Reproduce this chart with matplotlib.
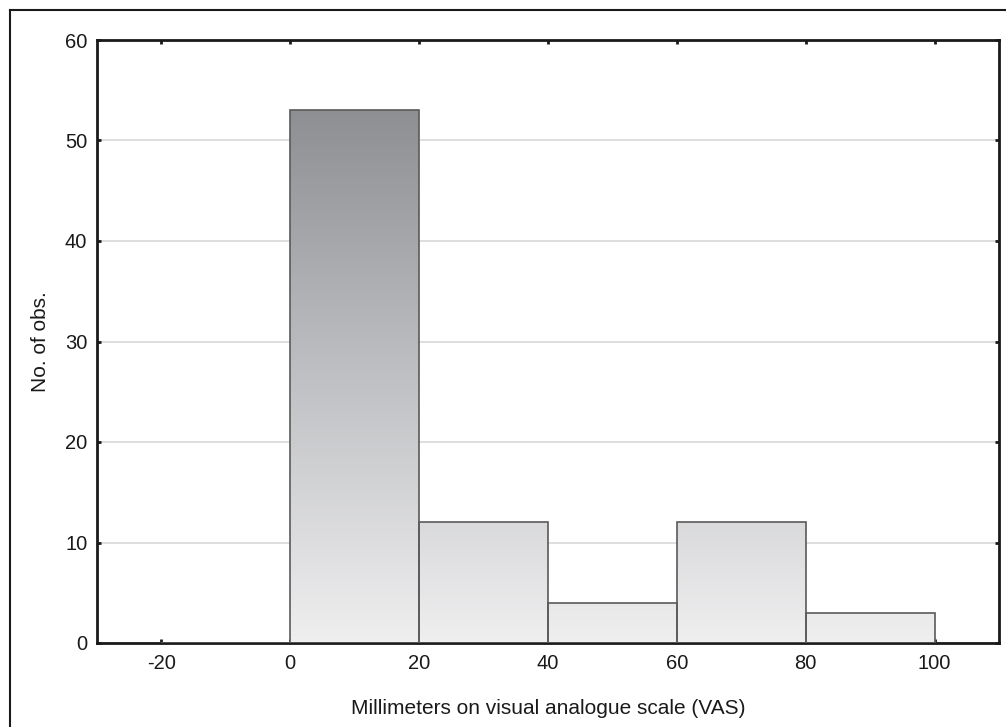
import numpy as np
import matplotlib
matplotlib.use("Agg")
import matplotlib.pyplot as plt
from matplotlib.colors import LinearSegmentedColormap
from matplotlib.lines import Line2D

# Data
bin_edges = [-20, 0, 20, 40, 60, 80, 100]
counts = [0, 53, 12, 4, 12, 3]
x_ticks = [-20, 0, 20, 40, 60, 80, 100]
y_ticks = [0, 10, 20, 30, 40, 50, 60]
x_label = "Millimeters on visual analogue scale (VAS)"
y_label = "No. of obs."

plt.rcParams['font.family'] = ['Liberation Sans', 'DejaVu Sans']

fig = plt.figure(figsize=(10.06, 7.27), dpi=100)
W, H = 1006, 727
ax = fig.add_axes([97 / W, 1 - 643 / H, (999 - 97) / W, (643 - 40) / H])

ax.set_xlim(-30, 110)
ax.set_ylim(0, 60)

# grid behind bars
ax.set_axisbelow(True)
ax.yaxis.grid(True, color='#d8d8d8', linewidth=1.2)

lefts = np.array(bin_edges[:-1])
widths = np.diff(bin_edges)
bars = ax.bar(lefts, counts, width=widths, align='edge', facecolor='none',
              edgecolor='#5a5a5a', linewidth=1.2, zorder=3)

# gradient fill clipped to bars
cmap = LinearSegmentedColormap.from_list('g', ['#efeff0', '#bfc0c3', '#8e8f93'])
top = max(counts)
grad = np.linspace(0, 1, 256).reshape(-1, 1)
for b, c in zip(bars, counts):
    if c <= 0:
        continue
    im = ax.imshow(grad, cmap=cmap, origin='lower', aspect='auto',
                   extent=[bin_edges[0], bin_edges[-1], 0, top], zorder=2,
                   interpolation='bilinear')
    im.set_clip_path(b)
ax.set_xlim(-30, 110)
ax.set_ylim(0, 60)

ax.set_xticks(x_ticks)
ax.set_yticks(y_ticks)
ax.set_xticklabels([str(t) for t in x_ticks])
ax.set_yticklabels([str(t) for t in y_ticks])
ax.tick_params(direction='in', length=3, width=2, top=True, right=True,
               labelsize=14.5, pad=8, colors='#1a1a1a')
ax.tick_params(axis='y', pad=7)
for s in ax.spines.values():
    s.set_linewidth(2)
    s.set_color('#1a1a1a')

ax.set_xlabel(x_label, fontsize=15, labelpad=19, color='#1a1a1a')
ax.set_ylabel(y_label, fontsize=15, labelpad=11, color='#1a1a1a')

# outer frame (only top and left visible)
fx = 10 / W
fy = 1 - 10 / H
fig.add_artist(Line2D([fx, 1.0], [fy, fy], transform=fig.transFigure,
                      color='#1a1a1a', linewidth=1.5))
fig.add_artist(Line2D([fx, fx], [0, fy], transform=fig.transFigure,
                      color='#1a1a1a', linewidth=1.5))

fig.savefig('out.png', dpi=100)
